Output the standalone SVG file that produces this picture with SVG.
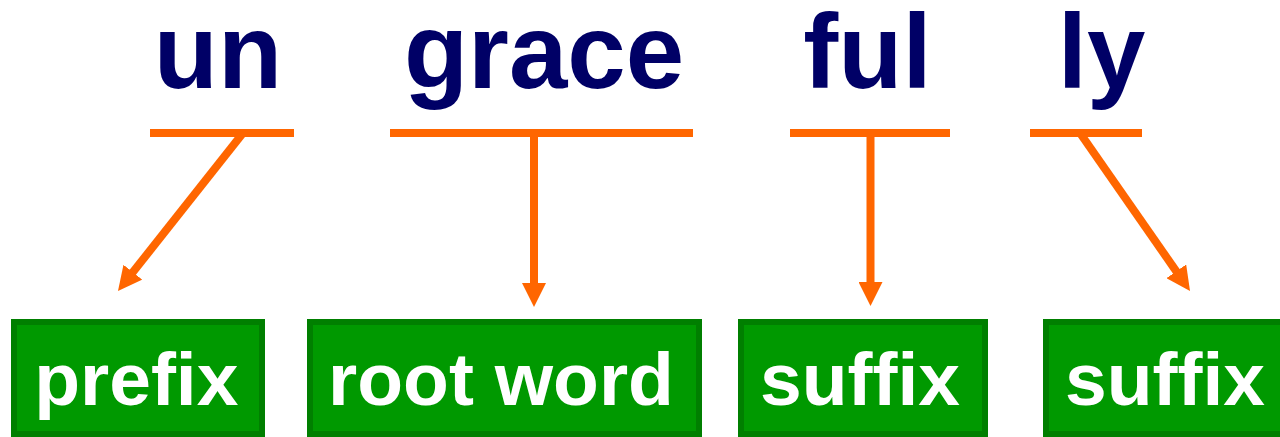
<svg xmlns="http://www.w3.org/2000/svg" width="1280" height="437" viewBox="0 0 1280 437">
<style>
.word{font-family:"Liberation Sans",Arial,sans-serif;font-weight:bold;font-size:105px;fill:#000066;text-anchor:middle}
.lbl{font-family:"Liberation Sans",Arial,sans-serif;font-weight:bold;font-size:75px;fill:#ffffff;text-anchor:middle}
.box{fill:#009900;stroke:#007f00;stroke-width:6}
.ul{stroke:#ff6600;stroke-width:8;fill:none}
.arr{stroke:#ff6600;stroke-width:8;fill:none;marker-end:url(#ah)}
</style>
<defs>
<marker id="ah" viewBox="0 0 24 24" refX="4" refY="12" markerWidth="24" markerHeight="24" markerUnits="userSpaceOnUse" orient="auto">
<path d="M0,0 L24,12 L0,24 z" fill="#ff6600"/>
</marker>
</defs>
<rect width="1280" height="437" fill="#ffffff"/>
<g id="word-un"><text class="word" x="218" y="87.5">un</text><line class="ul" x1="150" y1="133" x2="294" y2="133"/></g>
<g id="word-grace"><text class="word" x="544" y="87.5">grace</text><line class="ul" x1="390" y1="133" x2="693" y2="133"/></g>
<g id="word-ful"><text class="word" x="867.5" y="87.5">ful</text><line class="ul" x1="790" y1="133" x2="950" y2="133"/></g>
<g id="word-ly"><text class="word" x="1101.5" y="87.5">ly</text><line class="ul" x1="1030" y1="133" x2="1142" y2="133"/></g>
<g id="connectors">
<path class="arr" d="M243,133 L130.4,275.3"/>
<path class="arr" d="M534,133 L534,287"/>
<path class="arr" d="M870.5,133 L870.5,286"/>
<path class="arr" d="M1080,133 L1178.6,274.6"/>
</g>
<g id="box-prefix"><rect class="box" x="14" y="322" width="248" height="112"/><text class="lbl" x="136.3" y="404.5">prefix</text></g>
<g id="box-root"><rect class="box" x="310" y="322" width="389" height="112"/><text class="lbl" x="501" y="404.5">root word</text></g>
<g id="box-suffix1"><rect class="box" x="741" y="322" width="244" height="112"/><text class="lbl" x="860" y="404.5">suffix</text></g>
<g id="box-suffix2"><rect class="box" x="1046" y="322" width="244" height="112"/><text class="lbl" x="1165" y="404.5">suffix</text></g>
</svg>
